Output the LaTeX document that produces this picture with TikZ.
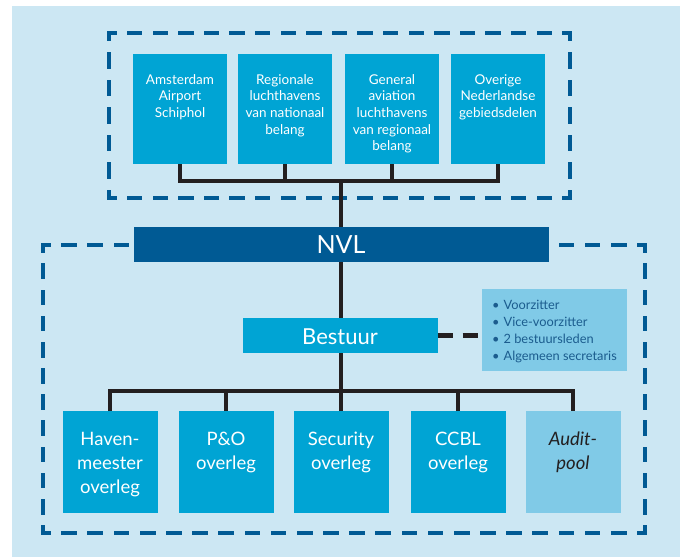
\documentclass[tikz,border=0pt]{standalone}
\usepackage{fontspec}
\setmainfont{Lato}
\definecolor{bgblue}{HTML}{CCE7F3}
\definecolor{cyanbox}{HTML}{00A4D4}
\definecolor{darkblue}{HTML}{005A94}
\definecolor{lightbox}{HTML}{80CAE7}
\definecolor{lineblack}{HTML}{231F20}
\definecolor{infotext}{HTML}{1B5C8E}
\begin{document}
\begin{tikzpicture}[x=1pt,y=-1pt,
  topbox/.style={fill=cyanbox, draw=none, minimum width=94pt, minimum height=110pt, inner sep=0pt, anchor=north},
  botbox/.style={fill=cyanbox, draw=none, minimum width=95pt, minimum height=102pt, inner sep=0pt, anchor=north},
  toptext/.style={text=white, align=center, inner sep=0pt, anchor=base, font=\fontsize{13.5}{16.7}\selectfont},
  bottext/.style={text=white, align=center, inner sep=0pt, anchor=base, font=\fontsize{18.5}{24}\selectfont},
  conn/.style={draw=lineblack, line width=4pt},
  dbox/.style={draw=darkblue, line width=4pt, line cap=rect}
]
\useasboundingbox (0,0) rectangle (680,557);
\fill[white] (0,0) rectangle (680,557);
\fill[bgblue] (12,6) rectangle (680,557);

% dashed frames
\coordinate (ua) at (109,33); \coordinate (ub) at (570,33);
\coordinate (uc) at (570,198); \coordinate (ud) at (109,198);
\draw[dbox, dash pattern=on 11.4 off 14.2, dash phase=5.7] (ua) -- (ub);
\draw[dbox, dash pattern=on 11.4 off 14.2, dash phase=5.7] (ud) -- (uc);
\draw[dbox, dash pattern=on 12.5 off 15, dash phase=6.25] (ua) -- (ud);
\draw[dbox, dash pattern=on 12.5 off 15, dash phase=6.25] (ub) -- (uc);

\coordinate (la) at (43,245); \coordinate (lb) at (645,245);
\coordinate (lc) at (645,533); \coordinate (ld) at (43,533);
\draw[dbox, dash pattern=on 11.7 off 14.47, dash phase=5.85] (la) -- (lb);
\draw[dbox, dash pattern=on 11.7 off 14.47, dash phase=5.85] (ld) -- (lc);
\draw[dbox, dash pattern=on 11.7 off 14.48, dash phase=5.85] (la) -- (ld);
\draw[dbox, dash pattern=on 11.7 off 14.48, dash phase=5.85] (lb) -- (lc);

% top boxes
\node[topbox] (t1) at (180,54) {};
\node[topbox] (t2) at (285,54) {};
\node[topbox] (t3) at (392,54) {};
\node[topbox] (t4) at (498,54) {};
\node[toptext] (t1t) at (180,117.4) {Amsterdam\\Airport\\Schiphol};
\node[toptext] (t2t) at (285,134.1) {Regionale\\luchthavens\\van nationaal\\belang};
\node[toptext] (t3t) at (392,150.8) {General\\aviation\\luchthavens\\van regionaal\\belang};
\node[toptext] (t4t) at (498,117.4) {Overige\\Nederlandse\\gebiedsdelen};

% NVL and Bestuur
\node[fill=darkblue, minimum width=415pt, minimum height=35pt, inner sep=0pt, anchor=north] (nvl) at (341,227) {};
\node[text=white, inner sep=0pt, anchor=base, font=\fontsize{25}{30}\selectfont] (nvlt) at (341,253) {NVL};
\node[fill=cyanbox, minimum width=195pt, minimum height=35pt, inner sep=0pt, anchor=north] (best) at (340,318) {};
\node[text=white, inner sep=0pt, anchor=base, font=\fontsize{22}{26}\selectfont] (bestt) at (340,344) {Bestuur};

% info box
\node[fill=lightbox, minimum width=145pt, minimum height=82pt, inner sep=0pt, anchor=north west] (info) at (482,289) {};
\node[text=infotext, align=left, inner sep=0pt, anchor=base west, font=\fontsize{12.8}{17}\selectfont] (infot) at (492,360)
 {\textbullet\hspace{4pt}Voorzitter\\\textbullet\hspace{4pt}Vice-voorzitter\\\textbullet\hspace{4pt}2 bestuursleden\\\textbullet\hspace{4pt}Algemeen secretaris};

% bottom boxes
\node[botbox] (b1) at (110,411) {};
\node[botbox] (b2) at (226,411) {};
\node[botbox] (b3) at (341,411) {};
\node[botbox] (b4) at (458,411) {};
\node[botbox, fill=lightbox] (b5) at (573,411) {};
\node[bottext] (b1t) at (110,493) {Haven-\\meester\\overleg};
\node[bottext] (b2t) at (226,469) {P\&O\\overleg};
\node[bottext] (b3t) at (341,469) {Security\\overleg};
\node[bottext] (b4t) at (458,469) {CCBL\\overleg};
\node[bottext, text=lineblack, font=\fontsize{18.5}{24}\selectfont\itshape] (b5t) at (573,469) {Audit-\\pool};

% connectors
\coordinate (jtop) at (341,181);
\coordinate (jbot) at (341,391);
\draw[conn] (t1.south) -- (t1.south |- jtop) -- (t4.south |- jtop) -- (t4.south);
\draw[conn] (t2.south) -- (t2.south |- jtop);
\draw[conn] (t3.south) -- (t3.south |- jtop);
\draw[conn] (jtop) -- (nvl.north -| jtop);
\draw[conn] (nvl.south -| jtop) -- (best.north -| jtop);
\draw[conn] (best.south -| jtop) -- (jbot);
\draw[conn] (b1.north) -- (b1.north |- jbot) -- (b5.north |- jbot) -- (b5.north);
\draw[conn] (b2.north) -- (b2.north |- jbot);
\draw[conn] (b3.north) -- (b3.north |- jbot);
\draw[conn] (b4.north) -- (b4.north |- jbot);
\draw[draw=lineblack, line width=5pt, dash pattern=on 15 off 10] (best.east) -- (best.east -| info.west);
\end{tikzpicture}
\end{document}
